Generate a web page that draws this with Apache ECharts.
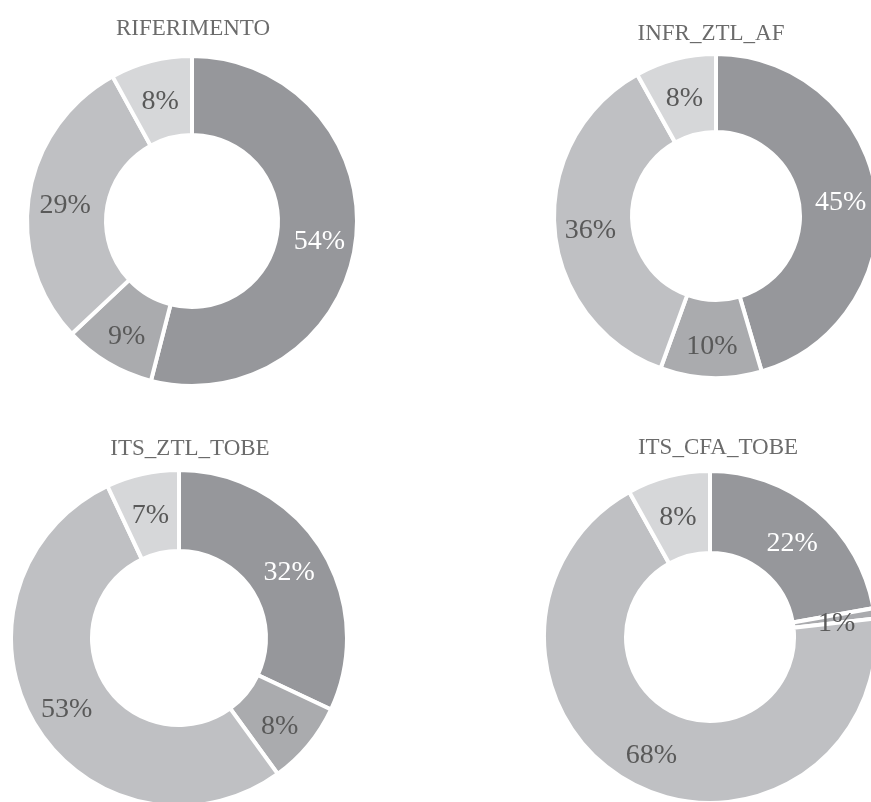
<!DOCTYPE html>
<html>
<head>
<meta charset="utf-8">
<script src="https://cdn.jsdelivr.net/npm/echarts@6/dist/echarts.min.js"></script>
<style>
  html, body { margin: 0; padding: 0; background: #ffffff; }
  #chart { width: 871px; height: 802px; }
</style>
</head>
<body>
<div id="chart"></div>
<script>
// Share of each category per scenario (percent)
const categories = ['A', 'B', 'C', 'D'];
const scenarios = ['RIFERIMENTO', 'INFR_ZTL_AF', 'ITS_ZTL_TOBE', 'ITS_CFA_TOBE'];
const riferimento = [54, 9, 29, 8];
const infrZtlAf = [45, 10, 36, 8];
const itsZtlTobe = [32, 8, 53, 7];
const itsCfaTobe = [22, 1, 68, 8];
const seriesValues = [riferimento, infrZtlAf, itsZtlTobe, itsCfaTobe];

const sliceColors = ['#96979b', '#aaabae', '#bfc0c3', '#d6d7d9'];
const labelColors = ['#ffffff', '#595959', '#595959', '#595959'];

// Layout of the 2x2 grid of donuts
const layout = [
  { center: [192, 221], radius: [86, 165], title: [188, 12] },
  { center: [716, 216], radius: [84, 162], title: [706, 17] },
  { center: [179, 638], radius: [87, 168], title: [185, 432] },
  { center: [710, 637], radius: [84, 166], title: [713, 431] }
];

const serif = '"Liberation Serif", "Times New Roman", serif';

const chart = echarts.init(document.getElementById('chart'), null, { renderer: 'canvas' });

const option = {
  backgroundColor: '#ffffff',
  animation: false,
  title: scenarios.map((name, i) => ({
    text: name,
    left: layout[i].title[0],
    top: layout[i].title[1],
    textAlign: 'center',
    textStyle: { fontFamily: serif, fontSize: 23, fontWeight: 'normal', color: '#6b6b6b' }
  })),
  series: scenarios.map((name, i) => ({
    type: 'pie',
    name: name,
    center: layout[i].center,
    radius: layout[i].radius,
    startAngle: 90,
    clockwise: true,
    avoidLabelOverlap: false,
    emphasis: { disabled: true },
    itemStyle: { borderColor: '#ffffff', borderWidth: 4 },
    label: {
      show: true,
      position: 'inside',
      formatter: '{c}%',
      fontFamily: serif,
      fontSize: 28,
      offset: [0, 5]
    },
    labelLine: { show: false },
    data: categories.map((c, k) => ({
      name: c,
      value: seriesValues[i][k],
      itemStyle: { color: sliceColors[k] },
      label: { color: labelColors[k] }
    }))
  }))
};

chart.setOption(option);
</script>
</body>
</html>
